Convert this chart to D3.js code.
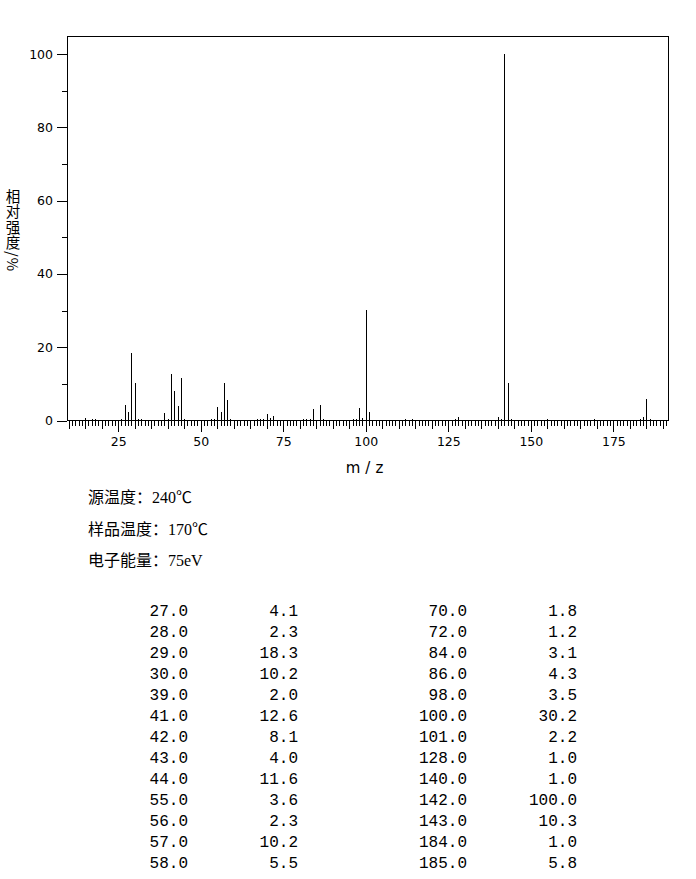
<!DOCTYPE html>
<html>
<head>
<meta charset="utf-8">
<script src="https://cdn.jsdelivr.net/npm/d3@7"></script>
<style>
  html, body { margin: 0; padding: 0; background: #fff; }
  svg { display: block; }
</style>
</head>
<body>
<svg id="chart" width="696" height="879"></svg>
<script>
// ---- data ----
const mzValues = [15, 17, 18, 26, 27, 28, 29, 30, 31, 32, 39, 40, 41, 42, 43, 44, 45,
  53, 54, 55, 56, 57, 58, 59, 67, 68, 69, 70, 71, 72, 81, 82, 83, 84, 86, 87,
  96, 97, 98, 99, 100, 101, 112, 114, 127, 128, 140, 141, 142, 143, 144,
  155, 169, 183, 184, 185, 186];
const intensities = [0.7, 0.3, 0.4, 0.5, 4.1, 2.3, 18.3, 10.2, 0.4, 0.3, 2.0, 0.4, 12.6, 8.1, 4.0, 11.6, 0.5,
  0.5, 0.5, 3.6, 2.3, 10.2, 5.5, 0.4, 0.4, 0.4, 0.5, 1.8, 0.6, 1.2, 0.3, 0.4, 0.3, 3.1, 4.3, 0.3,
  0.3, 0.3, 3.5, 0.6, 30.2, 2.2, 0.4, 0.4, 0.4, 1.0, 1.0, 0.4, 100.0, 10.3, 0.3,
  0.3, 0.3, 0.4, 1.0, 5.8, 0.4];
const xTickLabels = [25, 50, 75, 100, 125, 150, 175];
const yTickLabels = [0, 20, 40, 60, 80, 100];
const yMinorTicks = [10, 30, 50, 70, 90];
const yLabel = "相对强度/%";
const xLabel = "m/z";
const conditions = ["源温度：240℃", "样品温度：170℃", "电子能量：75eV"];

// ---- layout ----
const svg = d3.select("#chart");
const pLeft = 67, pRight = 668.5, pTop = 36.5, pBottom = 420.5;
const x = d3.scaleLinear().domain([9.5, 191.7]).range([pLeft, pRight]);
const y = d3.scaleLinear().domain([0, 100]).range([pBottom, 54]);

const tickFont = "'DejaVu Sans', sans-serif";

// x ticks: minor every 1, medium every 5, major every 25
function xAxis(values, size, labels) {
  const g = svg.append("g").attr("transform", `translate(0,${pBottom})`)
    .call(d3.axisBottom(x).tickValues(values).tickSize(size).tickSizeOuter(0)
      .tickFormat(labels ? d3.format("d") : () => ""));
  g.select(".domain").remove();
  g.selectAll(".tick line").attr("stroke", "#000").attr("shape-rendering", "crispEdges");
  g.selectAll(".tick text").attr("font-family", tickFont).attr("font-size", 12.5)
    .attr("fill", "#000").attr("y", 17).attr("dy", "0.71em");
  return g;
}
xAxis(d3.range(10, 192).filter(v => v % 5 !== 0), 5, false);
xAxis(d3.range(10, 192).filter(v => v % 5 === 0 && v % 25 !== 0), 8, false);
xAxis(xTickLabels, 11, true);

// y ticks
function yAxis(values, size, labels) {
  const g = svg.append("g").attr("transform", `translate(${pLeft},0)`)
    .call(d3.axisLeft(y).tickValues(values).tickSize(size).tickSizeOuter(0)
      .tickFormat(labels ? d3.format("d") : () => ""));
  g.select(".domain").remove();
  g.selectAll(".tick line").attr("stroke", "#000").attr("shape-rendering", "crispEdges");
  g.selectAll(".tick text").attr("font-family", tickFont).attr("font-size", 12.5)
    .attr("fill", "#000").attr("x", -14);
  return g;
}
yAxis(yMinorTicks, 5, false);
yAxis(yTickLabels, 10, true);

// frame
svg.append("path")
  .attr("d", `M${pLeft},${pBottom}V${pTop}H${pRight}V${pBottom}Z`)
  .attr("fill", "none").attr("stroke", "#000").attr("stroke-width", 1)
  .attr("shape-rendering", "crispEdges");

// peaks
const peaks = mzValues.map((m, i) => ({ mz: m, v: intensities[i] }));
svg.append("g").selectAll("line").data(peaks).join("line")
  .attr("x1", d => Math.round(x(d.mz)) + 0.5)
  .attr("x2", d => Math.round(x(d.mz)) + 0.5)
  .attr("y1", y(0))
  .attr("y2", d => y(d.v))
  .attr("stroke", "#000").attr("stroke-width", 1)
  .attr("shape-rendering", "crispEdges");

// axis titles
svg.append("text").attr("x", 367).attr("y", 473)
  .attr("text-anchor", "middle").attr("font-family", tickFont)
  .attr("font-size", 15).attr("letter-spacing", 5).attr("fill", "#000")
  .text(xLabel);

// vertical y title: CJK upright, Latin rotated (vertical writing mode)
svg.append("text")
  .attr("x", 13).attr("y", 189)
  .attr("font-family", "'Noto Sans CJK SC', sans-serif")
  .attr("font-size", 14.5).attr("fill", "#000")
  .style("letter-spacing", "1px")
  .style("writing-mode", "vertical-rl")
  .style("text-orientation", "mixed")
  .text(yLabel);

// conditions
svg.append("g").selectAll("text").data(conditions).join("text")
  .attr("x", 88).attr("y", (d, i) => 503 + i * 31.5)
  .attr("font-family", "'Liberation Serif', 'Noto Sans CJK SC', serif")
  .attr("font-size", 16).attr("fill", "#000")
  .text(d => d);

// table of peaks >= 1%
const tablePeaks = peaks.filter(p => p.v >= 1);
const half = Math.ceil(tablePeaks.length / 2);
const tbl = svg.append("g").attr("font-family", "'Liberation Mono', monospace")
  .attr("font-size", 16).attr("fill", "#000").attr("text-anchor", "end");
const colX = [[188, 298], [467, 577]];
tablePeaks.forEach((p, i) => {
  const col = i < half ? 0 : 1;
  const row = i % half;
  const ty = 616 + row * 21;
  tbl.append("text").attr("x", colX[col][0]).attr("y", ty).text(p.mz.toFixed(1));
  tbl.append("text").attr("x", colX[col][1]).attr("y", ty).text(p.v.toFixed(1));
});
</script>
</body>
</html>
